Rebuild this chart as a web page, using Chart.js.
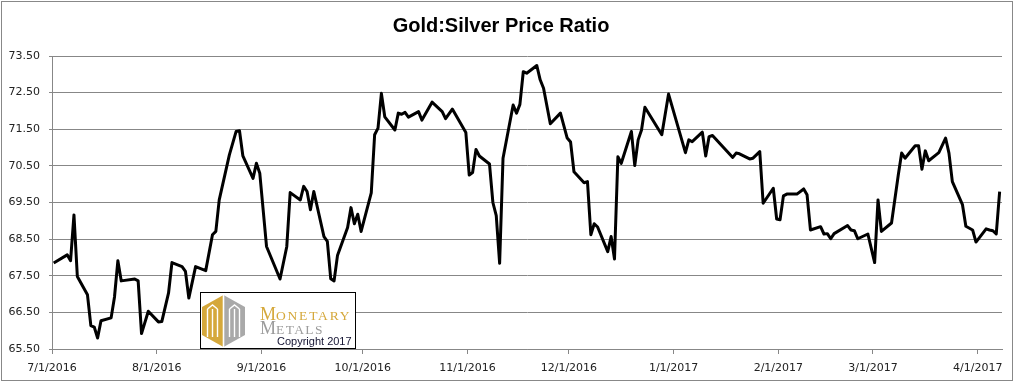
<!DOCTYPE html>
<html>
<head>
<meta charset="utf-8">
<script src="https://cdn.jsdelivr.net/npm/chart.js@4.4.1/dist/chart.umd.min.js"></script>
<style>
html,body{margin:0;padding:0;background:#fff;}
canvas{display:block;}
</style>
</head>
<body>
<canvas id="c" width="1016" height="383"></canvas>
<script>
const TITLE = 'Gold:Silver Price Ratio';

const dates = [
'2016-07-01','2016-07-05','2016-07-06','2016-07-07','2016-07-08','2016-07-11','2016-07-12','2016-07-13','2016-07-14','2016-07-15',
'2016-07-18','2016-07-19','2016-07-20','2016-07-21','2016-07-25','2016-07-26','2016-07-27','2016-07-29',
'2016-08-01','2016-08-02','2016-08-04','2016-08-05','2016-08-08','2016-08-09','2016-08-10','2016-08-12','2016-08-15','2016-08-17','2016-08-18','2016-08-19',
'2016-08-22','2016-08-24','2016-08-25','2016-08-26','2016-08-29','2016-08-30','2016-08-31',
'2016-09-02','2016-09-06','2016-09-08','2016-09-09','2016-09-12','2016-09-13','2016-09-14','2016-09-15','2016-09-16',
'2016-09-19','2016-09-20','2016-09-21','2016-09-22','2016-09-23','2016-09-26','2016-09-27','2016-09-28','2016-09-29','2016-09-30',
'2016-10-03','2016-10-04','2016-10-05','2016-10-06','2016-10-07','2016-10-10','2016-10-11','2016-10-12','2016-10-13','2016-10-14',
'2016-10-17','2016-10-18','2016-10-21','2016-10-24','2016-10-25','2016-10-27','2016-10-31',
'2016-11-01','2016-11-02','2016-11-03','2016-11-04','2016-11-07','2016-11-08','2016-11-09','2016-11-10','2016-11-11',
'2016-11-14','2016-11-15','2016-11-16','2016-11-17','2016-11-18','2016-11-21','2016-11-22','2016-11-23','2016-11-25','2016-11-28','2016-11-30',
'2016-12-01','2016-12-02','2016-12-05','2016-12-06','2016-12-07','2016-12-08','2016-12-09','2016-12-12','2016-12-13','2016-12-14','2016-12-15','2016-12-16',
'2016-12-19','2016-12-20','2016-12-21','2016-12-22','2016-12-23','2016-12-28','2016-12-30',
'2017-01-04','2017-01-05','2017-01-06','2017-01-09','2017-01-10','2017-01-11','2017-01-12','2017-01-18','2017-01-19','2017-01-20',
'2017-01-23','2017-01-24','2017-01-26','2017-01-27','2017-01-30','2017-01-31',
'2017-02-01','2017-02-02','2017-02-03','2017-02-06','2017-02-08','2017-02-09','2017-02-10','2017-02-13','2017-02-14','2017-02-15','2017-02-16','2017-02-17',
'2017-02-21','2017-02-22','2017-02-23','2017-02-24','2017-02-27',
'2017-03-01','2017-03-02','2017-03-03','2017-03-06','2017-03-08','2017-03-09','2017-03-10','2017-03-13','2017-03-14','2017-03-15','2017-03-16','2017-03-17',
'2017-03-20','2017-03-22','2017-03-23','2017-03-24','2017-03-27','2017-03-28','2017-03-30','2017-03-31',
'2017-04-03','2017-04-04','2017-04-05','2017-04-06','2017-04-07'
];

const ratio = [
67.85,68.07,67.91,69.16,67.48,66.98,66.14,66.10,65.80,66.27,
66.35,66.92,67.91,67.36,67.41,67.36,65.92,66.53,
66.24,66.25,67.03,67.86,67.75,67.62,66.89,67.75,67.64,68.62,68.71,69.57,
70.80,71.44,71.46,70.77,70.16,70.57,70.30,
68.30,67.41,68.30,69.77,69.57,69.94,69.80,69.30,69.80,
68.57,68.44,67.42,67.36,68.05,68.82,69.36,68.92,69.18,68.71,
69.76,71.35,71.53,72.48,71.84,71.48,71.94,71.91,71.96,71.83,
71.98,71.75,72.24,71.98,71.79,72.05,71.41,
70.25,70.32,70.95,70.77,70.55,69.50,69.14,67.84,70.71,
72.16,71.94,72.18,73.07,73.03,73.24,72.85,72.62,71.65,71.94,71.26,
71.15,70.34,70.04,70.07,68.62,68.92,68.83,68.16,68.57,67.96,70.75,70.57,
71.44,70.51,71.21,71.48,72.10,71.35,72.46,
70.86,71.21,71.16,71.42,70.77,71.30,71.33,70.73,70.85,70.83,
70.69,70.71,70.89,69.48,69.89,69.05,
69.03,69.68,69.73,69.73,69.87,69.71,68.75,68.84,68.64,68.65,68.51,68.65,
68.87,68.75,68.73,68.51,68.64,
67.86,69.57,68.71,68.94,70.25,70.85,70.71,71.05,71.05,70.41,70.91,70.64,
70.86,71.26,70.85,70.07,69.44,68.85,68.75,68.42,
68.78,68.75,68.73,68.64,69.80
];

const xTickDates = ['2016-07-01','2016-08-01','2016-09-01','2016-10-01','2016-11-01','2016-12-01','2017-01-01','2017-02-01','2017-03-01','2017-04-01'];
const xTickLabels = ['7/1/2016','8/1/2016','9/1/2016','10/1/2016','11/1/2016','12/1/2016','1/1/2017','2/1/2017','3/1/2017','4/1/2017'];
const yTicks = [65.5,66.5,67.5,68.5,69.5,70.5,71.5,72.5,73.5];

const START = '2016-07-01';
const END = '2017-04-08';

function dayOffset(s){
  const p = s.split('-').map(Number);
  const q = START.split('-').map(Number);
  return (Date.UTC(p[0],p[1]-1,p[2]) - Date.UTC(q[0],q[1]-1,q[2])) / 86400000;
}

const points = dates.map((d,i)=>({x: dayOffset(d) + 0.5, y: ratio[i]}));
const xTickValues = xTickDates.map(dayOffset);

const GRID = '#878787';
const TICKFONT = {family:'DejaVu Sans', size:11};

const decor = {
  id:'decor',
  beforeDraw(chart){
    const ctx = chart.ctx;
    ctx.save();
    ctx.fillStyle = '#fff';
    ctx.fillRect(0,0,chart.width,chart.height);
    ctx.restore();
  },
  afterDraw(chart){
    const ctx = chart.ctx;
    ctx.save();
    // outer border
    ctx.strokeStyle = '#888';
    ctx.lineWidth = 1;
    ctx.strokeRect(1.5,1.5,1011,379);
    // logo box
    ctx.fillStyle = '#fff';
    ctx.fillRect(200,292,156,57);
    ctx.strokeStyle = '#000';
    ctx.strokeRect(200.5,292.5,155,56);
    // hexagon
    const cx=223.5, t=295, b=347, l=202, r=245, ut=307, lb=335;
    ctx.fillStyle = '#D5A83B';
    ctx.beginPath(); ctx.moveTo(cx,t); ctx.lineTo(l,ut); ctx.lineTo(l,lb); ctx.lineTo(cx,b); ctx.closePath(); ctx.fill();
    ctx.fillStyle = '#A9A9A9';
    ctx.beginPath(); ctx.moveTo(cx,t); ctx.lineTo(r,ut); ctx.lineTo(r,lb); ctx.lineTo(cx,b); ctx.closePath(); ctx.fill();
    ctx.strokeStyle = '#fff';
    ctx.lineWidth = 1.6;
    ctx.beginPath(); ctx.moveTo(cx,t); ctx.lineTo(cx,b); ctx.stroke();
    ctx.lineWidth = 1.4;
    [-16,-11,-6, 6,11,16].forEach(dx=>{
      ctx.beginPath(); ctx.moveTo(cx+dx,309); ctx.lineTo(cx+dx,337); ctx.stroke();
    });
    ctx.beginPath();
    ctx.moveTo(cx-16,309); ctx.lineTo(cx-11,305); ctx.lineTo(cx-6,309);
    ctx.moveTo(cx+6,309); ctx.lineTo(cx+11,305); ctx.lineTo(cx+16,309);
    ctx.stroke();
    // text
    ctx.textBaseline = 'alphabetic';
    ctx.textAlign = 'left';
    ctx.fillStyle = '#D5A83B';
    ctx.font = '18px "Liberation Serif"';
    ctx.fillText('M',260,320);
    ctx.font = '13.5px "Liberation Serif"';
    ctx.letterSpacing = '1.8px';
    ctx.fillText('ONETARY',276,320);
    ctx.letterSpacing = '0px';
    ctx.fillStyle = '#9C9C9C';
    ctx.font = '18px "Liberation Serif"';
    ctx.fillText('M',260,334);
    ctx.font = '13.5px "Liberation Serif"';
    ctx.letterSpacing = '1.4px';
    ctx.fillText('ETALS',276,334);
    ctx.letterSpacing = '0px';
    ctx.fillStyle = '#141432';
    ctx.font = '11px "Liberation Sans"';
    ctx.fillText('Copyright 2017',277,345);
    ctx.restore();
  }
};

new Chart(document.getElementById('c'), {
  type:'line',
  data:{ datasets:[{
    data: points,
    borderColor:'#000',
    borderWidth:3,
    pointRadius:0,
    tension:0,
    borderJoinStyle:'round',
    fill:false
  }]},
  options:{
    responsive:false,
    animation:false,
    devicePixelRatio:1,
    layout:{padding:{left:0,right:14,top:0,bottom:0}},
    plugins:{
      legend:{display:false},
      tooltip:{enabled:false},
      title:{display:true,text:TITLE,color:'#000',
        font:{family:'"Liberation Sans Narrow", "Liberation Sans", sans-serif',size:20,weight:'bold',lineHeight:1.2},
        padding:{top:14,bottom:18}}
    },
    scales:{
      x:{
        type:'linear',
        min:0,
        max:dayOffset(END)+0.2,
        afterBuildTicks:(s)=>{ s.ticks = xTickValues.map(v=>({value:v})); },
        afterFit:(s)=>{ s.height = 34; },
        ticks:{autoSkip:false,maxRotation:0,minRotation:0,padding:8,color:'#222',font:TICKFONT,
          callback:(v,i)=>xTickLabels[i]},
        grid:{drawOnChartArea:false,drawTicks:true,tickLength:5,color:GRID},
        border:{color:GRID}
      },
      y:{
        min:65.5,
        max:73.5,
        afterBuildTicks:(s)=>{ s.ticks = yTicks.map(v=>({value:v})); },
        afterFit:(s)=>{ s.width = 52; },
        ticks:{padding:9,color:'#222',font:TICKFONT,callback:(v)=>Number(v).toFixed(2)},
        grid:{color:GRID,tickLength:3},
        border:{color:GRID}
      }
    }
  },
  plugins:[decor]
});
</script>
</body>
</html>
